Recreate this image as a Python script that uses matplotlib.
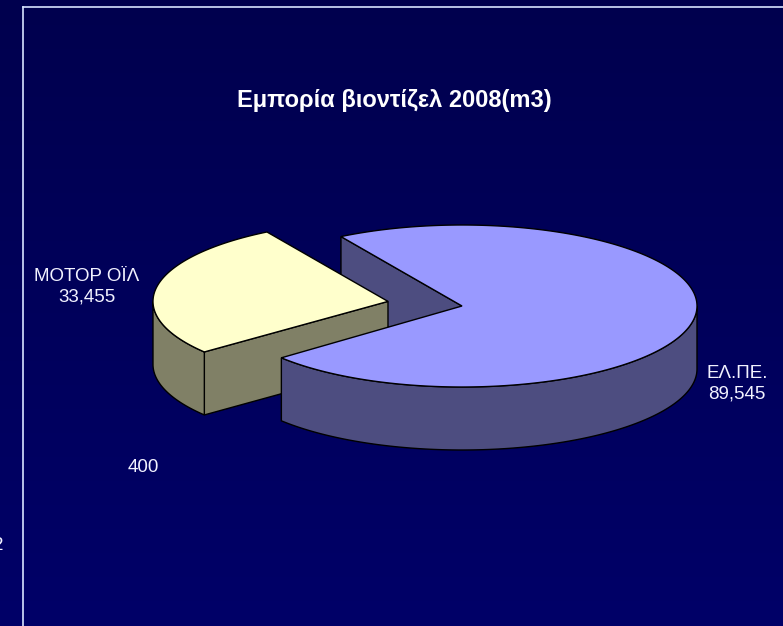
import numpy as np
import matplotlib.pyplot as plt
from matplotlib.colors import LinearSegmentedColormap
from matplotlib.patches import Polygon

# chart data
names = ['ΕΛ.ΠΕ.', '', 'ΜΟΤΟΡ ΟΪΛ']
values = [89545, 400, 33455]
value_labels = ['89,545', '400', '33,455']
top_colors = ['#9999FF', '#993366', '#FFFFCC']
side_colors = ['#4D4D80', '#4D1A33', '#808066']
explode = [0.0, 0.0, 0.32]
visible = [True, False, True]   # the 400 sliver is not drawn in the original

title = 'Εμπορία βιοντίζελ 2008(m3)'

# layout of the 3d pie (pixels)
cx, cy = 462, 306
rx, ry = 235, 81
depth = 63
start = 121.0

fig = plt.figure(figsize=(7.83, 6.26), dpi=100)
ax = fig.add_axes([0, 0, 1, 1])
ax.set_xlim(0, 783)
ax.set_ylim(626, 0)
ax.axis('off')

# background gradient
cmap = LinearSegmentedColormap.from_list('bg', ['#00004E', '#000068'])
grad = np.linspace(0, 1, 256).reshape(-1, 1)
ax.imshow(grad, cmap=cmap, extent=[0, 783, 626, 0], aspect='auto', zorder=0)

# frame lines
ax.plot([23, 23], [7, 626], color='#D8E4FF', lw=1.2, zorder=1)
ax.plot([23, 783], [7, 7], color='#D8E4FF', lw=1.2, zorder=1)


def rim(c, t, z=0.0):
    t = np.radians(t)
    return np.column_stack([c[0] + rx * np.cos(t), c[1] - ry * np.sin(t) + z])


# wedge angles, clockwise from start
total = sum(values)
wedges = []
hi = start
for v, e in zip(values, explode):
    span = 360.0 * v / total
    lo = hi - span
    mid = np.radians((lo + hi) / 2)
    c = (cx + e * rx * np.cos(mid), cy - e * ry * np.sin(mid))
    wedges.append((lo, hi, c))
    hi = lo


def draw_cut(lo, hi, c, col, z):
    for ang, nrm in [(hi, hi + 90), (lo, lo - 90)]:
        if np.sin(np.radians(nrm)) < 0:
            p = rim(c, ang)[0]
            pts = [c, p, (p[0], p[1] + depth), (c[0], c[1] + depth)]
            ax.add_patch(Polygon(pts, closed=True, fc=col, ec='black', lw=1, zorder=z))


def draw_side(lo, hi, c, col, z):
    ts = np.linspace(lo, hi, 400)
    ts = ts[np.sin(np.radians(ts)) <= 1e-9]
    if len(ts) < 2:
        return
    top = rim(c, ts)
    bot = rim(c, ts[::-1], depth)
    ax.add_patch(Polygon(np.vstack([top, bot]), closed=True, fc=col, ec='black', lw=1, zorder=z))


def draw_top(lo, hi, c, col, z):
    arc = rim(c, np.linspace(lo, hi, 400))
    pts = np.vstack([[c], arc])
    ax.add_patch(Polygon(pts, closed=True, fc=col, ec='black', lw=1, zorder=z))


# back cut face of the big slice first, then the exploded slice, then the big one
order = [(0, 'cut'), (2, 'all'), (1, 'all'), (0, 'rest')]
z = 2
for i, part in order:
    if not visible[i]:
        continue
    lo, hi, c = wedges[i]
    if part in ('cut', 'all'):
        draw_cut(lo, hi, c, side_colors[i], z)
        z += 1
    if part in ('all', 'rest'):
        draw_side(lo, hi, c, side_colors[i], z)
        draw_top(lo, hi, c, top_colors[i], z + 1)
        z += 2

# labels
font = 'Liberation Sans'
tcol = '#F2F2FF'
label_pos = [(737, 384), (143, 467), (87, 287)]
for name, val, (lx, ly) in zip(names, value_labels, label_pos):
    txt = name + '\n' + val if name else val
    ax.text(lx, ly, txt, ha='center', va='center', color=tcol, fontsize=13.5,
            family=font, linespacing=1.25, zorder=20)

ax.text(394, 100, title, ha='center', va='center', color='white', fontsize=17,
        fontweight='bold', family=font, zorder=20)

# cut-off text at the left edge
ax.text(-7, 546, '2', ha='left', va='center', color=tcol, fontsize=13.5, family=font, zorder=20)

fig.savefig('out.png', dpi=100, facecolor='#00004E')
